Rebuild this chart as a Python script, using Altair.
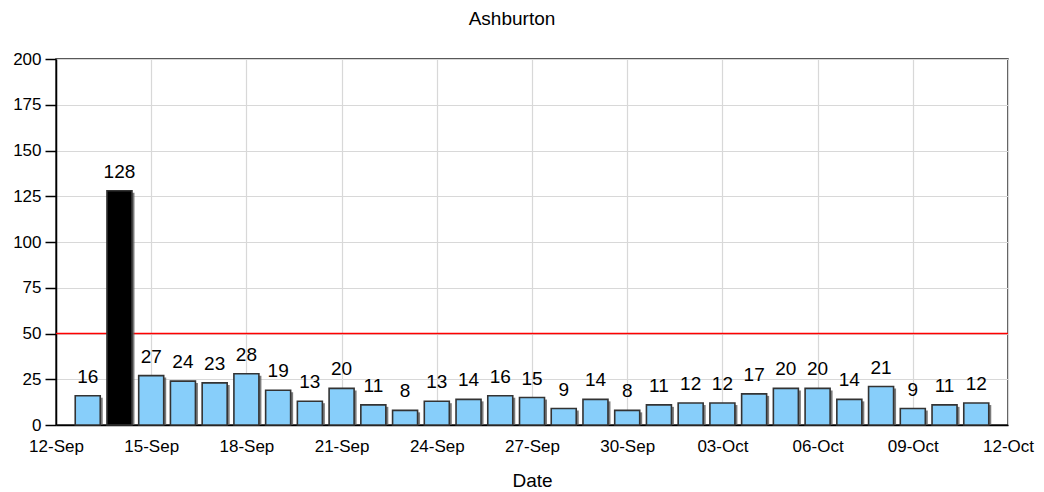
import altair as alt
import pandas as pd

dates = ["2021-09-13", "2021-09-14", "2021-09-15", "2021-09-16", "2021-09-17",
         "2021-09-18", "2021-09-19", "2021-09-20", "2021-09-21", "2021-09-22",
         "2021-09-23", "2021-09-24", "2021-09-25", "2021-09-26", "2021-09-27",
         "2021-09-28", "2021-09-29", "2021-09-30", "2021-10-01", "2021-10-02",
         "2021-10-03", "2021-10-04", "2021-10-05", "2021-10-06", "2021-10-07",
         "2021-10-08", "2021-10-09", "2021-10-10", "2021-10-11"]
counts = [16, 128, 27, 24, 23, 28, 19, 13, 20, 11, 8, 13, 14, 16, 15, 9, 14, 8,
          11, 12, 12, 17, 20, 20, 14, 21, 9, 11, 12]
threshold = [50]
tick_days = [(2021, 9, 12), (2021, 9, 15), (2021, 9, 18), (2021, 9, 21), (2021, 9, 24),
             (2021, 9, 27), (2021, 9, 30), (2021, 10, 3), (2021, 10, 6), (2021, 10, 9),
             (2021, 10, 12)]
y_ticks = [0, 25, 50, 75, 100, 125, 150, 175, 200]

df = pd.DataFrame({"date": dates, "count": counts})
thr = pd.DataFrame({"limit": threshold})

FONT = "Liberation Sans"

def dt(t):
    return alt.DateTime(year=t[0], month=t[1], date=t[2], utc=True)

xscale = alt.Scale(type="utc", domain=[dt(tick_days[0]), dt(tick_days[-1])], padding=0)
yscale = alt.Scale(domain=[0, 200])

x_enc = alt.X("date:T", scale=xscale, title="Date",
              axis=alt.Axis(values=[dt(t) for t in tick_days], format="%d-%b",
                            ticks=False, labelPadding=13, labelFontSize=17,
                            labelColor="black", labelFont=FONT,
                            titleFont=FONT, titleFontSize=19, titleFontWeight="normal",
                            titleColor="black", titlePadding=17,
                            domainColor="black", domainWidth=1.5,
                            gridColor="#d8d8d8", gridWidth=1.2,
                            labelOverlap=False, labelFlush=False))
y_enc = alt.Y("count:Q", scale=yscale, title=None,
              axis=alt.Axis(values=y_ticks, tickSize=11, tickColor="black",
                            tickWidth=1.5, labelPadding=4, labelFontSize=17,
                            labelColor="black", labelFont=FONT,
                            domainColor="black", domainWidth=1.5,
                            gridColor="#d8d8d8", gridWidth=1.2))

base = alt.Chart(df)

shadow = base.mark_bar(size=25, color="#5a5a5a", xOffset=2.5, yOffset=2,
                       clip=True, opacity=0.8).encode(x=x_enc, y=y_enc)

bars = base.mark_bar(size=25, stroke="#333333", strokeWidth=1.6).encode(
    x=x_enc, y=y_enc,
    color=alt.condition("datum.count > 50", alt.value("black"), alt.value("#87CEFA")),
)

labels = base.mark_text(baseline="alphabetic", dy=-13, fontSize=19, font=FONT,
                        color="black").encode(
    x=x_enc, y=y_enc, text="count:Q")

rule = alt.Chart(thr).mark_rule(color="#ff0000", strokeWidth=1.5).encode(
    y=alt.Y("limit:Q", scale=yscale))

chart = alt.layer(rule, shadow, bars, labels).properties(
    width=952, height=366,
    title=alt.TitleParams("Ashburton", font=FONT, fontSize=19, fontWeight="normal",
                          color="black", frame="group", baseline="bottom",
                          offset=2, dx=-20),
    autosize=alt.AutoSizeParams(type="none"),
    padding={"left": 48, "top": 51, "right": 28, "bottom": 66},
).configure_view(stroke="#222222", strokeWidth=1.5)

chart.save("out.html", embed_options={"renderer": "svg", "actions": False})
